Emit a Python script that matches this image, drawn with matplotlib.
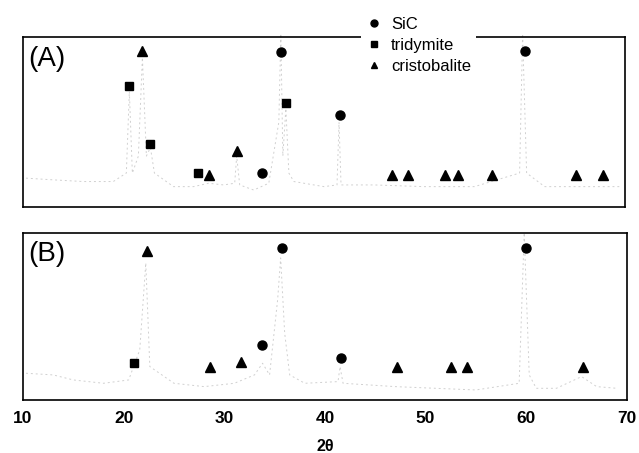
import matplotlib
matplotlib.use("Agg")
import matplotlib.pyplot as plt
from matplotlib.lines import Line2D

plt.rcParams['font.family'] = ['Liberation Sans', 'DejaVu Sans']

# ---- panel A: diffraction trace (2theta, relative intensity) ----
trace_a_x = [10.3, 13, 16, 19, 20.3, 20.6, 20.9, 21.5, 21.9, 22.3, 22.7, 23.1, 25, 27, 28.5, 30,
             31.1, 31.3, 31.6, 33, 34.5, 35.5, 35.7, 35.9, 36.2, 36.5, 37, 40, 41.3, 41.5, 41.7, 45,
             50, 55, 59.5, 59.8, 60.2, 62, 65, 69.5]
trace_a_y = [0.17, 0.16, 0.15, 0.15, 0.2, 0.68, 0.2, 0.3, 0.88, 0.3, 0.35, 0.2, 0.12, 0.12, 0.14, 0.13,
             0.14, 0.3, 0.13, 0.10, 0.14, 0.5, 1.02, 0.3, 0.58, 0.2, 0.15, 0.12, 0.13, 0.5, 0.13, 0.13,
             0.12, 0.12, 0.2, 1.02, 0.2, 0.12, 0.12, 0.12]

sic_a_x = [33.8, 35.7, 41.6, 60.0]
sic_a_y = [0.20, 0.91, 0.54, 0.92]
tri_a_x = [20.6, 22.7, 27.4, 36.2]
tri_a_y = [0.71, 0.37, 0.20, 0.61]
cri_a_x = [21.9, 28.5, 31.35, 46.8, 48.4, 52.1, 53.4, 56.7, 65.1, 67.8]
cri_a_y = [0.92, 0.19, 0.33, 0.19, 0.19, 0.19, 0.19, 0.19, 0.19, 0.19]

# ---- panel B ----
trace_b_x = [10.3, 13, 15, 18, 20.5, 21.6, 22.2, 22.6, 25, 28, 31, 33, 33.8, 34.5, 35.3, 35.6, 36,
             36.5, 38, 41.3, 41.5, 41.8, 47, 55, 59.3, 59.8, 60.3, 61, 63, 65.5, 67, 69]
trace_b_y = [0.16, 0.15, 0.12, 0.10, 0.12, 0.3, 0.82, 0.2, 0.10, 0.08, 0.10, 0.15, 0.22, 0.15, 0.6,
             0.85, 0.4, 0.15, 0.10, 0.11, 0.2, 0.10, 0.08, 0.06, 0.10, 1.0, 0.15, 0.07, 0.07, 0.14,
             0.08, 0.07]

sic_b_x = [33.7, 35.7, 41.6, 60.0]
sic_b_y = [0.33, 0.91, 0.25, 0.91]
tri_b_x = [21.0]
tri_b_y = [0.22]
cri_b_x = [22.3, 28.6, 31.7, 47.2, 52.5, 54.1, 65.6]
cri_b_y = [0.89, 0.20, 0.23, 0.20, 0.20, 0.20, 0.20]

x_ticks = [10, 20, 30, 40, 50, 60, 70]

fig = plt.figure(figsize=(6.39, 4.53), dpi=100)
ax_a = fig.add_axes([0.036, 0.543, 0.942, 0.375])
ax_b = fig.add_axes([0.036, 0.117, 0.945, 0.369])

panels = [
    (ax_a, "(A)", trace_a_x, trace_a_y, sic_a_x, sic_a_y, tri_a_x, tri_a_y, cri_a_x, cri_a_y),
    (ax_b, "(B)", trace_b_x, trace_b_y, sic_b_x, sic_b_y, tri_b_x, tri_b_y, cri_b_x, cri_b_y),
]
for ax, lab, tx, ty, sx, sy, qx, qy, cx, cy in panels:
    ax.plot(tx, ty, color="#d0d0d0", lw=0.7, ls=(0, (2, 3)), clip_on=False)
    ax.plot(sx, sy, "o", color="black", ms=6.5, ls="none")
    ax.plot(qx, qy, "s", color="black", ms=6, ls="none")
    ax.plot(cx, cy, "^", color="black", ms=6.5, ls="none")
    ax.set_xlim(10, 70)
    ax.set_ylim(0, 1)
    ax.set_yticks([])
    ax.text(0.008, 0.95, lab, transform=ax.transAxes, fontsize=20, va="top", ha="left")
    for s in ax.spines.values():
        s.set_linewidth(1.2)

ax_a.set_xticks([])
ax_b.set_xticks(x_ticks)
ax_b.tick_params(axis="x", length=0, pad=8)
for t in ax_b.get_xticklabels():
    t.set_fontsize(12.5)
    t.set_fontweight("bold")
ax_b.set_xlabel("2θ", fontsize=11.5, fontweight="bold", labelpad=9)

handles = [
    Line2D([], [], marker="o", color="black", ls="none", ms=5),
    Line2D([], [], marker="s", color="black", ls="none", ms=5),
    Line2D([], [], marker="^", color="black", ls="none", ms=5),
]
leg = fig.legend(handles, ["SiC", "tridymite", "cristobalite"], loc="upper left",
                 bbox_to_anchor=(361 / 639, 1 - 12 / 453), fontsize=12, frameon=True,
                 handlelength=1.0, handletextpad=0.5, labelspacing=0.36, borderpad=0.3,
                 borderaxespad=0)
leg.get_frame().set_facecolor("white")
leg.get_frame().set_edgecolor("none")
leg.get_frame().set_alpha(1.0)
leg.set_zorder(10)

fig.savefig("out.png", dpi=100)
